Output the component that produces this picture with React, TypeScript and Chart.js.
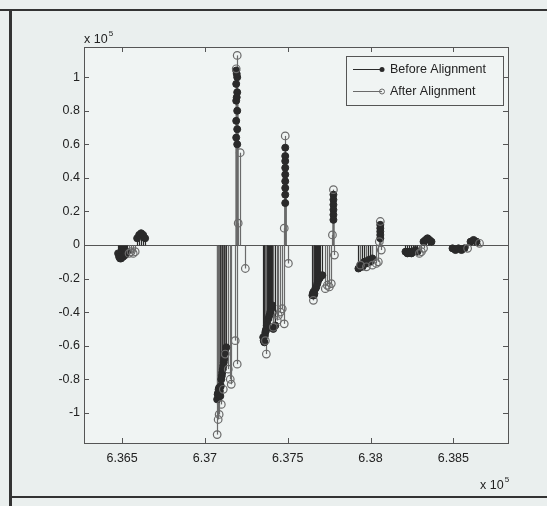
import React, { useEffect, useRef } from "react";
import Chart from "chart.js/auto";

// ---- data (x in raw units, y in raw units; axes show ×10^5) ----
const beforeX: number[] = [
  636476, 636482, 636488, 636494, 636500, 636506, 636512, 636518, 636524, 636530,
  636591, 636603, 636615, 636627, 636639,
  637074, 637077, 637080, 637083, 637086, 637090, 637093, 637096, 637099, 637102, 637105, 637108, 637111, 637114, 637117, 637123, 637129,
  637189, 637195, 637189, 637195, 637189, 637195, 637189, 637195, 637189, 637195, 637192, 637192,
  637352, 637355, 637359, 637362, 637365, 637368, 637371, 637374, 637377, 637383, 637389, 637395, 637401, 637407, 637413, 637425,
  637485, 637485, 637485, 637485, 637485, 637485, 637485, 637485, 637485,
  637649, 637652, 637655, 637658, 637661, 637667, 637673, 637679, 637685, 637691, 637697, 637709,
  637776, 637776, 637776, 637776, 637776, 637776,
  637927, 637939, 637951, 637963, 637975, 637987, 637999, 638011,
  638059, 638059, 638059, 638059, 638059,
  638211, 638223, 638235, 638247, 638259, 638271, 638283,
  638320, 638332, 638344, 638356, 638368,
  638495, 638513, 638531, 638549, 638567,
  638604, 638622, 638640,
];
const beforeY: number[] = [
  -5000, -7000, -8000, -8000, -7000, -7000, -6000, -6000, -5000, -4000,
  4000, 6000, 7000, 6000, 4000,
  -92000, -89000, -88000, -86000, -85000, -87000, -90000, -84000, -80000, -78000, -76000, -74000, -72000, -70000, -68000, -64000, -61000,
  104000, 100000, 96000, 91000, 86000, 80000, 74000, 69000, 64000, 60000, 102000, 88000,
  -55000, -57000, -58000, -54000, -52000, -51000, -50000, -48000, -47000, -44000, -42000, -40000, -38000, -36000, -50000, -48000,
  58000, 53000, 50000, 46000, 42000, 38000, 34000, 30000, 25000,
  -30000, -29000, -28000, -30000, -29000, -26000, -25000, -23000, -21000, -20000, -19000, -18000,
  30000, 27000, 24000, 21000, 18000, 15000,
  -14000, -12000, -13000, -10000, -11000, -9000, -10000, -8000,
  12000, 10000, 8000, 6000, 4000,
  -4000, -5000, -4000, -5000, -4000, -3000, -4000,
  2000, 3000, 4000, 3000, 2000,
  -2000, -3000, -2000, -3000, -2000,
  2000, 3000, 2000,
];
const afterX: number[] = [
  636542, 636554, 636567, 636579,
  637074, 637080, 637086, 637099, 637111, 637123, 637141, 637153, 637159, 637183, 637195, 637244,
  637195, 637189, 637213, 637201,
  637371, 637365, 637413, 637437, 637443, 637455, 637467, 637479, 637504, 637485, 637479,
  637655, 637727, 637739, 637751, 637763, 637782, 637776, 637770,
  637939, 637975, 638011, 638035, 638047, 638065, 638059, 638053,
  638295, 638307, 638320,
  638586, 638658,
];
const afterY: number[] = [
  -5000, -4000, -5000, -4000,
  -113000, -104000, -101000, -95000, -86000, -65000, -74000, -80000, -83000, -57000, -71000, -14000,
  113000, 105000, 55000, 13000,
  -65000, -57000, -49000, -45000, -42000, -40000, -38000, -47000, -11000, 65000, 10000,
  -33000, -26000, -24000, -25000, -23000, -6000, 33000, 6000,
  -12000, -13000, -12000, -11000, -10000, -3000, 14000, 2000,
  -5000, -4000, -2000,
  -2000, 1000,
];
const xTicks: number[] = [636500, 637000, 637500, 638000, 638500];
const xTickLabels: string[] = ["6.365", "6.37", "6.375", "6.38", "6.385"];
const yTicks: number[] = [-100000, -80000, -60000, -40000, -20000, 0, 20000, 40000, 60000, 80000, 100000];
const yTickLabels: string[] = ["-1", "-0.8", "-0.6", "-0.4", "-0.2", "0", "0.2", "0.4", "0.6", "0.8", "1"];
const seriesLabels: string[] = ["Before Alignment", "After Alignment"];

const FONT = '"Liberation Sans", Arial, sans-serif';
const BEFORE_COLOR = "#2a2a2a";
const AFTER_COLOR = "#6a6a6a";
const PAGE_BG = "#eaefee";
const PLOT_BG = "#f0f4f3";

const matlabPlugin = {
  id: "matlab",
  beforeDraw(chart: any) {
    const { ctx, chartArea: a } = chart;
    ctx.save();
    ctx.fillStyle = PLOT_BG;
    ctx.fillRect(a.left, a.top, a.right - a.left, a.bottom - a.top);
    ctx.restore();
  },
  beforeDatasetsDraw(chart: any) {
    const { ctx, chartArea: a, scales } = chart;
    const y0 = Math.round(scales.y.getPixelForValue(0)) + 0.5;
    ctx.save();
    ctx.strokeStyle = "#555";
    ctx.lineWidth = 1;
    ctx.beginPath();
    ctx.moveTo(a.left, y0);
    ctx.lineTo(a.right, y0);
    ctx.stroke();
    chart.data.datasets.forEach((ds: any, i: number) => {
      const meta = chart.getDatasetMeta(i);
      ctx.strokeStyle = ds.stemColor;
      ctx.lineWidth = 1.2;
      meta.data.forEach((el: any) => {
        const x = Math.round(el.x) + 0.5;
        ctx.beginPath();
        ctx.moveTo(x, y0);
        ctx.lineTo(x, el.y);
        ctx.stroke();
      });
    });
    ctx.restore();
  },
  afterDraw(chart: any) {
    const { ctx, chartArea: a, scales } = chart;
    ctx.save();
    // axis box
    ctx.strokeStyle = "#555";
    ctx.lineWidth = 1;
    ctx.strokeRect(Math.round(a.left) + 0.5, Math.round(a.top) + 0.5, Math.round(a.right - a.left), Math.round(a.bottom - a.top));
    // inward ticks
    const tl = 5;
    ctx.beginPath();
    xTicks.forEach((v) => {
      const px = Math.round(scales.x.getPixelForValue(v)) + 0.5;
      ctx.moveTo(px, a.bottom);
      ctx.lineTo(px, a.bottom - tl);
      ctx.moveTo(px, a.top);
      ctx.lineTo(px, a.top + tl);
    });
    yTicks.forEach((v) => {
      const py = Math.round(scales.y.getPixelForValue(v)) + 0.5;
      ctx.moveTo(a.left, py);
      ctx.lineTo(a.left + tl, py);
      ctx.moveTo(a.right, py);
      ctx.lineTo(a.right - tl, py);
    });
    ctx.stroke();

    // exponent labels
    ctx.fillStyle = "#222";
    ctx.textBaseline = "alphabetic";
    ctx.textAlign = "left";
    ctx.font = `12.5px ${FONT}`;
    ctx.fillText("x 10", a.left, a.top - 4);
    const w1 = ctx.measureText("x 10").width;
    ctx.font = `8px ${FONT}`;
    ctx.fillText("5", a.left + w1 + 1, a.top - 11);
    ctx.font = `12.5px ${FONT}`;
    ctx.fillText("x 10", a.right - 28, a.bottom + 46);
    const w2 = ctx.measureText("x 10").width;
    ctx.font = `8px ${FONT}`;
    ctx.fillText("5", a.right - 28 + w2 + 1, a.bottom + 39);

    // legend
    const lx = a.right - 162;
    const ly = a.top + 9;
    const lw = 157;
    const lh = 49;
    ctx.fillStyle = PLOT_BG;
    ctx.fillRect(lx, ly, lw, lh);
    ctx.strokeStyle = "#555";
    ctx.strokeRect(lx + 0.5, ly + 0.5, lw, lh);
    const rows = [ly + 13, ly + 35];
    chart.data.datasets.forEach((ds: any, i: number) => {
      const ry = rows[i] + 0.5;
      ctx.strokeStyle = ds.stemColor;
      ctx.lineWidth = 1;
      ctx.beginPath();
      ctx.moveTo(lx + 7, ry);
      ctx.lineTo(lx + 36, ry);
      ctx.stroke();
      ctx.beginPath();
      ctx.arc(lx + 36, ry, 2.5, 0, Math.PI * 2);
      if (i === 0) {
        ctx.fillStyle = ds.stemColor;
        ctx.fill();
      } else {
        ctx.stroke();
      }
      ctx.fillStyle = "#222";
      ctx.font = `12.5px ${FONT}`;
      ctx.textBaseline = "middle";
      ctx.fillText(seriesLabels[i], lx + 44, ry);
    });
    ctx.restore();
  },
};

export default function App() {
  const ref = useRef<HTMLCanvasElement | null>(null);
  useEffect(() => {
    if (!ref.current) return;
    const chart = new Chart(ref.current, {
      type: "scatter",
      data: {
        datasets: [
          {
            label: seriesLabels[0],
            data: beforeX.map((x, i) => ({ x, y: beforeY[i] })),
            pointStyle: "circle",
            pointRadius: 3.5,
            pointBackgroundColor: BEFORE_COLOR,
            pointBorderColor: BEFORE_COLOR,
            pointBorderWidth: 1,
            order: 1,
            stemColor: BEFORE_COLOR,
          } as any,
          {
            label: seriesLabels[1],
            data: afterX.map((x, i) => ({ x, y: afterY[i] })),
            pointStyle: "circle",
            pointRadius: 3.8,
            pointBackgroundColor: "rgba(0,0,0,0)",
            pointBorderColor: AFTER_COLOR,
            pointBorderWidth: 1.2,
            order: 0,
            stemColor: AFTER_COLOR,
          } as any,
        ],
      },
      options: {
        animation: false,
        responsive: false,
        events: [],
        layout: { padding: { top: 47, right: 39, left: 0, bottom: 0 } },
        plugins: { legend: { display: false }, tooltip: { enabled: false } },
        scales: {
          x: {
            type: "linear",
            min: 636270,
            max: 638830,
            grid: { display: false, drawTicks: false },
            border: { display: false },
            afterBuildTicks: (s: any) => {
              s.ticks = xTicks.map((v) => ({ value: v }));
            },
            afterFit: (s: any) => {
              s.height = 63;
            },
            ticks: {
              padding: 8,
              color: "#222",
              font: { family: FONT, size: 12.5 },
              maxRotation: 0,
              autoSkip: false,
              callback: (v: any) => {
                const idx = xTicks.indexOf(Number(v));
                return idx >= 0 ? xTickLabels[idx] : "";
              },
            },
          },
          y: {
            type: "linear",
            min: -118000,
            max: 118000,
            grid: { display: false, drawTicks: false },
            border: { display: false },
            afterBuildTicks: (s: any) => {
              s.ticks = yTicks.map((v) => ({ value: v }));
            },
            afterFit: (s: any) => {
              s.width = 84;
            },
            ticks: {
              padding: 4,
              color: "#222",
              font: { family: FONT, size: 12.5 },
              autoSkip: false,
              callback: (v: any) => {
                const idx = yTicks.indexOf(Number(v));
                return idx >= 0 ? yTickLabels[idx] : "";
              },
            },
          },
        },
      },
      plugins: [matlabPlugin],
    });
    return () => chart.destroy();
  }, []);

  return (
    <div
      style={{
        position: "fixed",
        left: 0,
        top: 0,
        width: 547,
        height: 506,
        background: PAGE_BG,
        overflow: "hidden",
      }}
    >
      <canvas ref={ref} width={547} height={506} style={{ position: "absolute", left: 0, top: 0, width: 547, height: 506 }} />
      <div style={{ position: "absolute", left: 0, top: 9, width: 547, height: 2, background: "#333" }} />
      <div style={{ position: "absolute", left: 9, top: 9, width: 3, height: 497, background: "#333" }} />
      <div style={{ position: "absolute", left: 9, top: 496, width: 538, height: 2, background: "#333" }} />
    </div>
  );
}
